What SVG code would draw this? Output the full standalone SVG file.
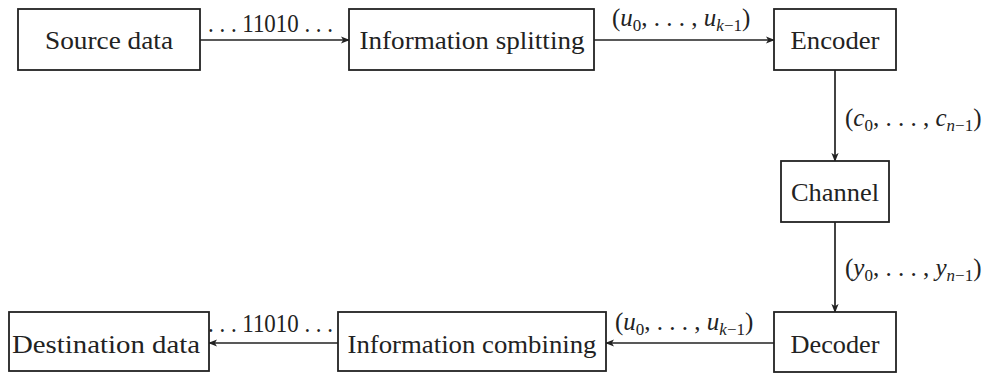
<svg xmlns="http://www.w3.org/2000/svg" width="993" height="373" viewBox="0 0 993 373">
<style>
.box{fill:#fff;stroke:#222;stroke-width:1.8}
.t{font-family:"Liberation Serif","DejaVu Serif",serif;font-size:26px;fill:#222;text-anchor:middle}
.m{font-family:"Liberation Serif","DejaVu Serif",serif;font-size:25px;fill:#222}
.i{font-style:italic}
.s{font-size:17px}
.c{stroke:#222;stroke-width:1.7;fill:none;marker-end:url(#ah)}
</style>
<defs>
<marker id="ah" viewBox="0 0 10 10" refX="9" refY="5" markerWidth="9" markerHeight="9" markerUnits="userSpaceOnUse" orient="auto">
<path d="M0,1 L10,5 L0,9 L2.5,5 Z" fill="#222"/>
</marker>
</defs>
<g id="connectors">
<line class="c" x1="200" y1="40" x2="349" y2="40"/>
<line class="c" x1="594" y1="40" x2="774" y2="40"/>
<line class="c" x1="835" y1="70" x2="835" y2="161"/>
<line class="c" x1="835" y1="222" x2="835" y2="312"/>
<line class="c" x1="774" y1="343" x2="606" y2="343"/>
<line class="c" x1="338" y1="343" x2="209" y2="343"/>
<text class="m" x="208" y="32" textLength="125" lengthAdjust="spacingAndGlyphs">. . . 11010 . . .</text>
<text class="m" x="612" y="26">(<tspan class="i">u</tspan><tspan class="s" dy="5">0</tspan><tspan dy="-5">, . . . , </tspan><tspan class="i">u</tspan><tspan class="s" dy="5"><tspan class="i">k</tspan>−1</tspan><tspan dy="-5">)</tspan></text>
<text class="m" x="845" y="126">(<tspan class="i">c</tspan><tspan class="s" dy="5">0</tspan><tspan dy="-5">, . . . , </tspan><tspan class="i">c</tspan><tspan class="s" dy="5"><tspan class="i">n</tspan>−1</tspan><tspan dy="-5">)</tspan></text>
<text class="m" x="845" y="276">(<tspan class="i">y</tspan><tspan class="s" dy="5">0</tspan><tspan dy="-5">, . . . , </tspan><tspan class="i">y</tspan><tspan class="s" dy="5"><tspan class="i">n</tspan>−1</tspan><tspan dy="-5">)</tspan></text>
<text class="m" x="615" y="330">(<tspan class="i">u</tspan><tspan class="s" dy="5">0</tspan><tspan dy="-5">, . . . , </tspan><tspan class="i">u</tspan><tspan class="s" dy="5"><tspan class="i">k</tspan>−1</tspan><tspan dy="-5">)</tspan></text>
<text class="m" x="208" y="332" textLength="125" lengthAdjust="spacingAndGlyphs">. . . 11010 . . .</text>
</g>
<g id="source"><rect class="box" x="18" y="9" width="182" height="61"/><text class="t" x="109" y="49" textLength="128" lengthAdjust="spacingAndGlyphs">Source data</text></g>
<g id="splitting"><rect class="box" x="349" y="9" width="245" height="61"/><text class="t" x="472" y="49" textLength="225" lengthAdjust="spacingAndGlyphs">Information splitting</text></g>
<g id="encoder"><rect class="box" x="774" y="9" width="122" height="61"/><text class="t" x="835" y="49" textLength="89" lengthAdjust="spacingAndGlyphs">Encoder</text></g>
<g id="channel"><rect class="box" x="781" y="161" width="108" height="61"/><text class="t" x="835" y="201" textLength="88" lengthAdjust="spacingAndGlyphs">Channel</text></g>
<g id="decoder"><rect class="box" x="774" y="312" width="122" height="60"/><text class="t" x="835" y="353" textLength="89" lengthAdjust="spacingAndGlyphs">Decoder</text></g>
<g id="combining"><rect class="box" x="338" y="312" width="268" height="59"/><text class="t" x="472" y="353" textLength="249" lengthAdjust="spacingAndGlyphs">Information combining</text></g>
<g id="destination"><rect class="box" x="9" y="312" width="200" height="59"/><text class="t" x="106" y="353" textLength="188" lengthAdjust="spacingAndGlyphs">Destination data</text></g>
</svg>
